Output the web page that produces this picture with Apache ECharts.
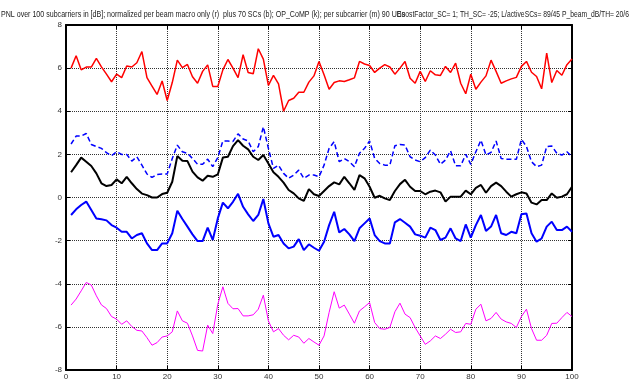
<!DOCTYPE html>
<html>
<head>
<meta charset="utf-8">
<script src="https://cdn.jsdelivr.net/npm/echarts@6/dist/echarts.min.js"></script>
<style>
  html, body { margin: 0; padding: 0; background: #fff; }
  #chart { width: 634px; height: 381px; }
</style>
</head>
<body>
<div id="chart"></div>
<script>
// PNL per subcarrier (dB), subcarriers 1..100
const macroOnly = [6.0, 6.57, 5.92, 6.05, 6.05, 6.45, 6.06, 5.72, 5.37, 5.72,
  5.56, 6.1, 6.05, 6.25, 6.77, 5.56, 5.17, 4.78, 5.4, 4.5,
  5.33, 6.37, 6.02, 6.17, 5.6, 5.3, 5.85, 6.15, 5.15, 5.15,
  5.92, 6.4, 6.0, 5.56, 6.62, 5.8, 5.74, 6.9, 6.42, 5.2,
  5.66, 5.27, 4.0, 4.5, 4.6, 4.88, 4.88, 5.35, 5.64, 6.31,
  5.69, 5.02, 5.33, 5.41, 5.38, 5.46, 5.55, 6.31, 6.19, 6.12,
  5.8, 6.0, 6.16, 6.05, 5.72, 6.0, 6.31, 5.53, 5.3, 5.85,
  5.38, 5.88, 5.69, 5.66, 6.08, 5.8, 6.23, 5.3, 4.81, 5.72,
  5.02, 5.35, 5.64, 6.37, 5.85, 5.3, 5.41, 5.5, 5.57, 6.08,
  6.31, 5.81, 5.61, 5.04, 6.7, 5.33, 5.89, 5.67, 6.16, 6.42];

const plus70SCs = [2.48, 2.85, 2.85, 2.97, 2.46, 2.36, 2.28, 2.08, 1.94, 2.12,
  2.0, 2.0, 1.69, 1.89, 1.5, 1.09, 0.93, 1.07, 1.09, 1.09,
  1.81, 2.43, 2.12, 2.05, 1.81, 1.54, 1.54, 1.78, 1.43, 1.85,
  2.62, 2.62, 2.6, 2.95, 2.71, 2.62, 2.12, 2.36, 3.28, 2.28,
  1.35, 1.5, 1.12, 0.89, 1.04, 1.27, 0.89, 1.04, 1.04, 0.96,
  1.5, 2.28, 2.59, 1.66, 1.81, 1.66, 1.43, 2.05, 2.28, 2.62,
  1.81, 1.58, 1.5, 1.5, 2.4, 2.46, 2.43, 1.89, 1.74, 1.66,
  1.85, 2.2, 1.97, 1.54, 1.74, 2.17, 1.47, 1.47, 2.0, 1.54,
  2.12, 2.66, 1.97, 2.09, 2.62, 1.81, 1.77, 1.77, 1.77, 2.7,
  2.36, 1.66, 1.43, 1.5, 2.36, 2.39, 2.05, 1.97, 2.12, 1.89];

const opCoMP = [1.17, 1.5, 1.85, 1.66, 1.46, 1.12, 0.66, 0.53, 0.58, 0.84,
  0.66, 0.96, 0.66, 0.39, 0.18, 0.11, 0.0, 0.0, 0.16, 0.22,
  0.73, 1.92, 1.7, 1.69, 1.2, 0.93, 0.78, 1.01, 0.96, 1.07,
  1.85, 1.89, 2.38, 2.66, 2.4, 2.23, 1.89, 1.74, 1.97, 1.58,
  1.17, 0.96, 0.69, 0.35, 0.19, -0.04, -0.16, 0.39, 0.15, 0.07,
  0.3, 0.53, 0.7, 0.61, 0.96, 0.66, 0.35, 1.04, 0.89, 0.5,
  -0.01, 0.08, -0.04, -0.12, 0.3, 0.62, 0.82, 0.5, 0.3, 0.3,
  0.15, 0.27, 0.32, 0.24, -0.19, 0.04, 0.04, 0.04, 0.32, 0.15,
  0.45, 0.58, 0.22, 0.53, 0.69, 0.53, 0.27, 0.04, 0.15, 0.24,
  0.19, -0.24, -0.32, -0.12, -0.12, 0.19, -0.01, 0.04, 0.15, 0.5];

const plus70SCsSolid = [-0.81, -0.55, -0.35, -0.19, -0.58, -0.97, -1.01, -1.06, -1.28, -1.4,
  -1.59, -1.59, -1.9, -1.74, -1.66, -2.13, -2.44, -2.44, -2.13, -2.13,
  -1.66, -0.61, -1.0, -1.35, -1.71, -2.02, -2.02, -1.4, -1.97, -0.97,
  -0.24, -0.5, -0.2, 0.17, -0.43, -0.78, -1.09, -0.81, -0.07, -1.2,
  -1.82, -1.74, -2.13, -2.36, -2.28, -1.93, -2.44, -2.17, -2.33, -2.47,
  -2.05, -1.28, -0.66, -1.62, -1.46, -1.71, -2.02, -1.43, -1.2, -0.97,
  -1.74, -2.02, -2.13, -2.13, -1.15, -1.0, -1.17, -1.35, -1.71, -1.77,
  -1.86, -1.4, -1.51, -1.97, -1.86, -1.43, -1.9, -2.02, -1.25, -1.86,
  -1.28, -0.81, -1.55, -1.35, -0.81, -1.66, -1.74, -1.59, -1.66, -0.78,
  -0.74, -1.66, -2.05, -1.9, -1.35, -1.12, -1.51, -1.51, -1.35, -1.59];

const perSubcarrier = [-4.99, -4.71, -4.33, -3.94, -4.06, -4.56, -4.98, -5.15, -5.52, -5.64,
  -5.88, -5.72, -5.98, -6.16, -6.19, -6.5, -6.85, -6.73, -6.47, -6.42,
  -6.23, -5.26, -5.72, -5.83, -6.42, -7.09, -7.12, -5.92, -6.31, -4.95,
  -4.14, -4.91, -5.16, -5.15, -5.49, -5.49, -5.44, -5.18, -4.53, -5.72,
  -6.23, -6.08, -6.39, -6.6, -6.39, -6.47, -6.76, -6.54, -6.7, -6.85,
  -6.42, -5.33, -4.37, -5.13, -4.99, -5.41, -5.83, -5.26, -5.07, -4.87,
  -5.8, -6.08, -6.11, -6.03, -5.3, -4.9, -5.41, -5.57, -6.03, -6.42,
  -6.81, -6.65, -6.42, -6.54, -6.34, -6.11, -6.26, -6.23, -5.84, -5.88,
  -5.18, -4.95, -5.72, -5.61, -5.33, -5.64, -5.77, -5.84, -6.03, -5.52,
  -5.18, -6.08, -6.62, -6.62, -6.39, -5.84, -5.83, -5.57, -5.33, -5.52];

const xTicks = [0, 10, 20, 30, 40, 50, 60, 70, 80, 90, 100];
const yTicks = [-8, -6, -4, -2, 0, 2, 4, 6, 8];

const titleLeft = 'PNL over 100 subcarriers in [dB]; normalized per beam macro only (r)  plus 70 SCs (b); OP_CoMP (k); per subcarrier (m) 90 UEs';
const titleRight = 'BoostFactor_SC= 1; TH_SC= -25; L/activeSCs= 89/45 P_beam_dB/TH= 20/6';

const font = "'Liberation Sans', Arial, sans-serif";
const titleFontSize = 9;

// the original title is set in a condensed face: squeeze the text to its width
function squeeze(text, targetWidth) {
  const ctx = document.createElement('canvas').getContext('2d');
  ctx.font = titleFontSize + 'px ' + font;
  return targetWidth / ctx.measureText(text).width;
}

const toXY = arr => arr.map((v, i) => [i + 1, v]);

const chart = echarts.init(document.getElementById('chart'));

const axisCommon = {
  type: 'value',
  axisLine: { show: true, onZero: false, lineStyle: { color: '#000', width: 2 } },
  axisTick: { show: true, inside: true, length: 4, lineStyle: { color: '#000', width: 1 } },
  axisLabel: { show: true, color: '#333', fontSize: 8, fontFamily: font },
  splitLine: { show: false }
};
const gridLine = { show: true, lineStyle: { color: '#333', type: [1, 1], width: 1 } };

chart.setOption({
  animation: false,
  backgroundColor: '#fff',
  graphic: [
    { type: 'text', x: 1, y: 10, scaleX: squeeze(titleLeft, 404),
      style: { text: titleLeft, fill: '#222', font: titleFontSize + 'px ' + font } },
    { type: 'text', x: 397, y: 10, scaleX: squeeze(titleRight, 232),
      style: { text: titleRight, fill: '#222', font: titleFontSize + 'px ' + font } }
  ],
  grid: { left: 66, right: 62, top: 25, bottom: 10, containLabel: false },
  xAxis: [
    Object.assign({}, axisCommon, {
      position: 'bottom', min: xTicks[0], max: xTicks[xTicks.length - 1], interval: 10,
      axisLabel: Object.assign({}, axisCommon.axisLabel, { margin: 3 }),
      splitLine: gridLine
    }),
    Object.assign({}, axisCommon, {
      position: 'top', min: 0, max: 100, interval: 10,
      axisLabel: { show: false }
    })
  ],
  yAxis: [
    Object.assign({}, axisCommon, {
      position: 'left', min: yTicks[0], max: yTicks[yTicks.length - 1], interval: 2,
      axisLabel: Object.assign({}, axisCommon.axisLabel, { margin: 4 }),
      splitLine: gridLine
    }),
    Object.assign({}, axisCommon, {
      position: 'right', min: -8, max: 8, interval: 2,
      axisLabel: { show: false }
    })
  ],
  series: [
    { name: 'macro only', type: 'line', data: toXY(macroOnly), symbol: 'none',
      lineStyle: { color: '#ff0000', width: 1.5 } },
    { name: 'plus 70 SCs', type: 'line', data: toXY(plus70SCs), symbol: 'none',
      lineStyle: { color: '#0000ff', width: 1.5, type: [5, 3] } },
    { name: 'OP_CoMP', type: 'line', data: toXY(opCoMP), symbol: 'none',
      lineStyle: { color: '#000000', width: 2 } },
    { name: 'plus 70 SCs solid', type: 'line', data: toXY(plus70SCsSolid), symbol: 'none',
      lineStyle: { color: '#0000ff', width: 2 } },
    { name: 'per subcarrier', type: 'line', data: toXY(perSubcarrier), symbol: 'none',
      lineStyle: { color: '#ff00ff', width: 1 } }
  ]
});
</script>
</body>
</html>
